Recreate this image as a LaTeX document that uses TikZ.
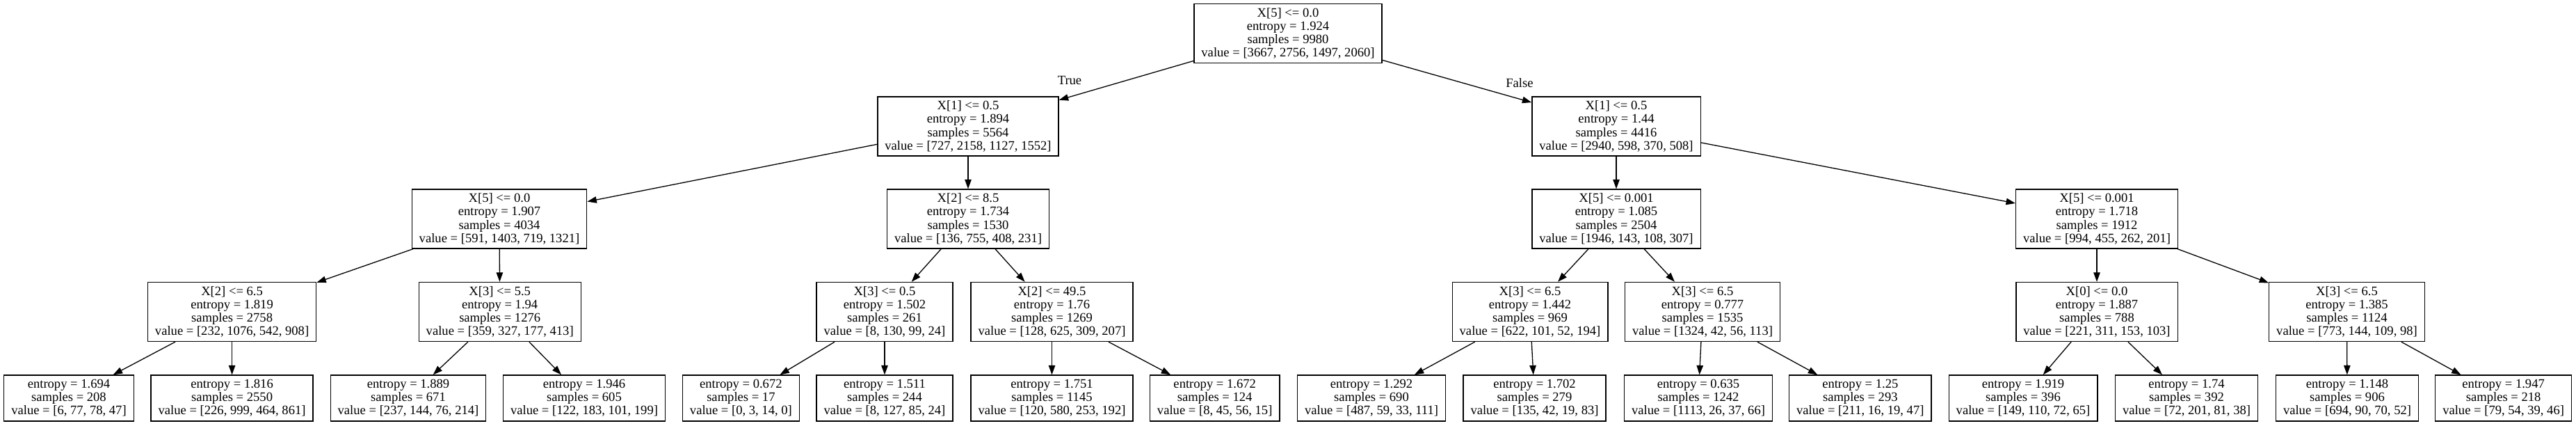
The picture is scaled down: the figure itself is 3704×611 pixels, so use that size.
\documentclass[tikz,border=0pt]{standalone}
\usepackage{fontspec}
\setmainfont{Liberation Serif}
\usetikzlibrary{arrows.meta}
\begin{document}
\begin{tikzpicture}[x=0.5pt,y=-0.5pt,
  box/.style={draw, line width=0.65pt, rectangle, align=center, inner xsep=5.25pt, inner ysep=0pt, font=\fontsize{9.3pt}{9.55pt}\selectfont},
  split/.style={box, minimum height=42.5pt},
  leaf/.style={box, minimum height=33pt},
  edge/.style={line width=0.65pt, -{Triangle[length=6.7pt,width=4.7pt]}},
  elabel/.style={font=\fontsize{9.3pt}{9.55pt}\selectfont, inner sep=0pt}]
\useasboundingbox (0,0) rectangle (3704,611);
% level 0
\node[split] (n0) at (1852,48) {X[5] <= 0.0\\entropy = 1.924\\samples = 9980\\value = [3667, 2756, 1497, 2060]};
% level 1
\node[split] (n1) at (1392,181.5) {X[1] <= 0.5\\entropy = 1.894\\samples = 5564\\value = [727, 2158, 1127, 1552]};
\node[split] (n2) at (2324,181.5) {X[1] <= 0.5\\entropy = 1.44\\samples = 4416\\value = [2940, 598, 370, 508]};
% level 2
\node[split] (n3) at (718,314.5) {X[5] <= 0.0\\entropy = 1.907\\samples = 4034\\value = [591, 1403, 719, 1321]};
\node[split] (n4) at (1392,314.5) {X[2] <= 8.5\\entropy = 1.734\\samples = 1530\\value = [136, 755, 408, 231]};
\node[split] (n5) at (2324,314.5) {X[5] <= 0.001\\entropy = 1.085\\samples = 2504\\value = [1946, 143, 108, 307]};
\node[split] (n6) at (3015,314.5) {X[5] <= 0.001\\entropy = 1.718\\samples = 1912\\value = [994, 455, 262, 201]};
% level 3
\node[split] (n7) at (333.6,448) {X[2] <= 6.5\\entropy = 1.819\\samples = 2758\\value = [232, 1076, 542, 908]};
\node[split] (n8) at (718.7,448) {X[3] <= 5.5\\entropy = 1.94\\samples = 1276\\value = [359, 327, 177, 413]};
\node[split] (n9) at (1272,448) {X[3] <= 0.5\\entropy = 1.502\\samples = 261\\value = [8, 130, 99, 24]};
\node[split] (n10) at (1512.5,448) {X[2] <= 49.5\\entropy = 1.76\\samples = 1269\\value = [128, 625, 309, 207]};
\node[split] (n11) at (2200,448) {X[3] <= 6.5\\entropy = 1.442\\samples = 969\\value = [622, 101, 52, 194]};
\node[split] (n12) at (2448,448) {X[3] <= 6.5\\entropy = 0.777\\samples = 1535\\value = [1324, 42, 56, 113]};
\node[split] (n13) at (3015,448) {X[0] <= 0.0\\entropy = 1.887\\samples = 788\\value = [221, 311, 153, 103]};
\node[split] (n14) at (3374.5,448) {X[3] <= 6.5\\entropy = 1.385\\samples = 1124\\value = [773, 144, 109, 98]};
% leaves
\node[leaf] (l1) at (99,572) {entropy = 1.694\\samples = 208\\value = [6, 77, 78, 47]};
\node[leaf] (l2) at (333.6,572) {entropy = 1.816\\samples = 2550\\value = [226, 999, 464, 861]};
\node[leaf] (l3) at (587,572) {entropy = 1.889\\samples = 671\\value = [237, 144, 76, 214]};
\node[leaf] (l4) at (840,572) {entropy = 1.946\\samples = 605\\value = [122, 183, 101, 199]};
\node[leaf] (l5) at (1065.4,572) {entropy = 0.672\\samples = 17\\value = [0, 3, 14, 0]};
\node[leaf] (l6) at (1272,572) {entropy = 1.511\\samples = 244\\value = [8, 127, 85, 24]};
\node[leaf] (l7) at (1512.5,572) {entropy = 1.751\\samples = 1145\\value = [120, 580, 253, 192]};
\node[leaf] (l8) at (1746.7,572) {entropy = 1.672\\samples = 124\\value = [8, 45, 56, 15]};
\node[leaf] (l9) at (1972,572) {entropy = 1.292\\samples = 690\\value = [487, 59, 33, 111]};
\node[leaf] (l10) at (2206.5,572) {entropy = 1.702\\samples = 279\\value = [135, 42, 19, 83]};
\node[leaf] (l11) at (2442,572) {entropy = 0.635\\samples = 1242\\value = [1113, 26, 37, 66]};
\node[leaf] (l12) at (2674.8,572) {entropy = 1.25\\samples = 293\\value = [211, 16, 19, 47]};
\node[leaf] (l13) at (2909,572) {entropy = 1.919\\samples = 396\\value = [149, 110, 72, 65]};
\node[leaf] (l14) at (3144,572) {entropy = 1.74\\samples = 392\\value = [72, 201, 81, 38]};
\node[leaf] (l15) at (3375,572) {entropy = 1.148\\samples = 906\\value = [694, 90, 70, 52]};
\node[leaf] (l16) at (3599.6,572) {entropy = 1.947\\samples = 218\\value = [79, 54, 39, 46]};
% edge labels
\node[elabel] (tl) at (1538,115.7) {True};
\node[elabel] (fl) at (2185,119) {False};
% edges
\draw[edge] (n0) -- (n1);
\draw[edge] (n0) -- (n2);
\draw[edge] (n1) -- (n3);
\draw[edge] (n1) -- (n4);
\draw[edge] (n2) -- (n5);
\draw[edge] (n2) -- (n6);
\draw[edge] (n3) -- (n7);
\draw[edge] (n3) -- (n8);
\draw[edge] (n4) -- (n9);
\draw[edge] (n4) -- (n10);
\draw[edge] (n5) -- (n11);
\draw[edge] (n5) -- (n12);
\draw[edge] (n6) -- (n13);
\draw[edge] (n6) -- (n14);
\draw[edge] (n7) -- (l1);
\draw[edge] (n7) -- (l2);
\draw[edge] (n8) -- (l3);
\draw[edge] (n8) -- (l4);
\draw[edge] (n9) -- (l5);
\draw[edge] (n9) -- (l6);
\draw[edge] (n10) -- (l7);
\draw[edge] (n10) -- (l8);
\draw[edge] (n11) -- (l9);
\draw[edge] (n11) -- (l10);
\draw[edge] (n12) -- (l11);
\draw[edge] (n12) -- (l12);
\draw[edge] (n13) -- (l13);
\draw[edge] (n13) -- (l14);
\draw[edge] (n14) -- (l15);
\draw[edge] (n14) -- (l16);
\end{tikzpicture}
\end{document}
